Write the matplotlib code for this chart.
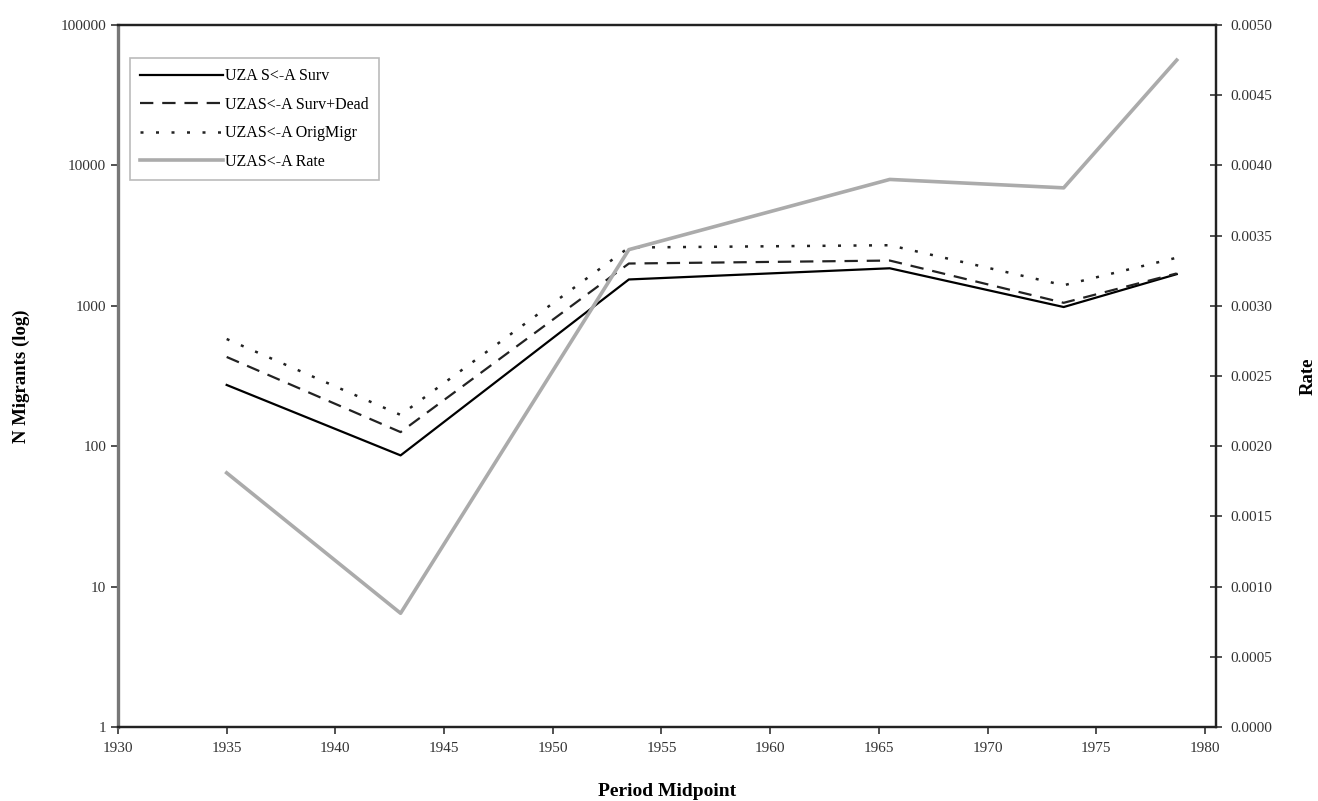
import matplotlib.pyplot as plt
from matplotlib.ticker import FuncFormatter, NullLocator

plt.rcParams['font.family'] = ['Liberation Serif', 'DejaVu Serif']

# period midpoints and migrant counts (log scale, left axis)
years = [1935, 1943, 1953.5, 1965.5, 1973.5, 1978.7]
surv = [273, 86, 1540, 1850, 980, 1680]
surv_dead = [432, 126, 2000, 2100, 1050, 1700]
orig_migr = [580, 167, 2600, 2700, 1400, 2200]

# migration rate (right axis)
rate = [0.00181, 0.00081, 0.00340, 0.00390, 0.00384, 0.00475]

fig = plt.figure(figsize=(13.18, 8.01), dpi=100)
ax = fig.add_axes([0.0895, 0.0924, 0.833, 0.8764])
ax2 = ax.twinx()

l1, = ax.plot(years, surv, color='black', lw=1.6, label='UZA S<-A Surv')
l2, = ax.plot(years, surv_dead, color='#222222', lw=1.6,
              linestyle=(0, (6, 4)), label='UZAS<-A Surv+Dead')
l3, = ax.plot(years, orig_migr, color='#222222', lw=1.8,
              linestyle=(0, (1.2, 5)), label='UZAS<-A OrigMigr')
l4, = ax2.plot(years, rate, color='#ababab', lw=2.6, label='UZAS<-A Rate')

ax.set_yscale('log')
ax.set_ylim(1, 100000)
ax.set_yticks([1, 10, 100, 1000, 10000, 100000])
ax.yaxis.set_minor_locator(NullLocator())
ax.yaxis.set_major_formatter(FuncFormatter(lambda v, p: f'{int(v)}'))
ax.set_xlim(1930, 1980.5)
ax.set_xticks(range(1930, 1981, 5))

ax2.set_ylim(0, 0.005)
ax2.set_yticks([i * 0.0005 for i in range(11)])
ax2.yaxis.set_major_formatter(FuncFormatter(lambda v, p: f'{v:.4f}'))

ax.tick_params(axis='both', labelsize=11, colors='#333333', length=5, width=1.2)
ax.tick_params(axis='x', pad=6)
ax2.tick_params(axis='y', direction='inout', labelsize=11, colors='#333333',
                length=9, width=1.2, pad=6)

for a in (ax, ax2):
    for s in a.spines.values():
        s.set_linewidth(1.6)
        s.set_color('#222222')
ax.spines['left'].set_color('#777777')
ax.spines['left'].set_linewidth(2.4)
ax2.spines['left'].set_visible(False)

ax.set_xlabel('Period Midpoint', fontsize=14, fontweight='bold', labelpad=20)
ax.set_ylabel('N Migrants (log)', fontsize=13.5, fontweight='bold', labelpad=22)
ax2.set_ylabel('Rate', fontsize=13.5, fontweight='bold', labelpad=20)

leg = ax.legend(handles=[l1, l2, l3, l4], loc='upper left',
                bbox_to_anchor=(0.011, 0.953), fontsize=11.5, frameon=True,
                fancybox=False, handlelength=5.2, handletextpad=0.1,
                borderpad=0.65, labelspacing=0.78, borderaxespad=0)
leg.get_frame().set_edgecolor('#aaaaaa')
leg.get_frame().set_linewidth(1.2)

fig.savefig('out.png', dpi=100)
